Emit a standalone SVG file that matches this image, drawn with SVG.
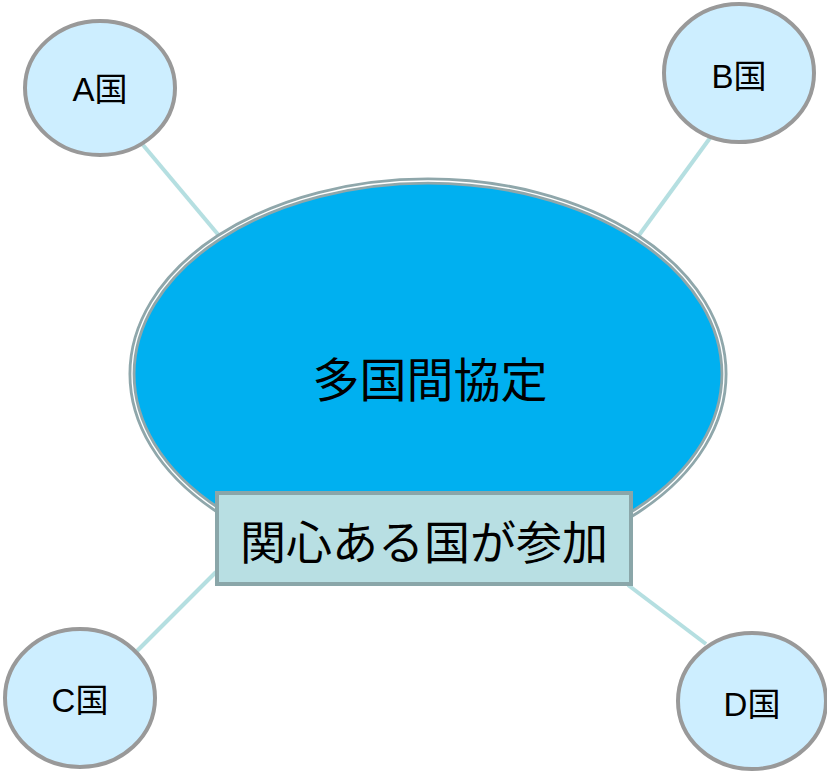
<svg xmlns="http://www.w3.org/2000/svg" width="827" height="772" viewBox="0 0 827 772">
<style>
.c{fill:#cdeeff;stroke:#999999;stroke-width:4}
.t{font-family:"Liberation Sans","Noto Sans CJK JP",sans-serif;fill:#000;text-anchor:middle}
.n{font-size:33px}
.l{stroke:#b5dfe1;stroke-width:4;fill:none}
</style>
<g id="connectors">
<line class="l" x1="143" y1="145" x2="221" y2="238"/>
<line class="l" x1="710" y1="138" x2="637" y2="238"/>
<line class="l" x1="216" y1="572" x2="137" y2="651"/>
<line class="l" x1="628" y1="585" x2="706" y2="644"/>
</g>
<g id="center">
<ellipse cx="428" cy="374" rx="296" ry="193" fill="#00b0f0" stroke="#8fa7ab" stroke-width="7"/>
<ellipse cx="428" cy="374" rx="296" ry="193" fill="none" stroke="#ffffff" stroke-width="1.3"/>
<text class="t" x="430" y="397" font-size="47">多国間協定</text>
</g>
<g id="label">
<rect x="217" y="493" width="414" height="91" fill="#b8dfe3" stroke="#8aa6a9" stroke-width="4"/>
<text class="t" x="424" y="559" font-size="46">関心ある国が参加</text>
</g>
<g id="nodeA">
<ellipse class="c" cx="100" cy="88" rx="75" ry="67"/>
<text class="t n" x="100" y="101">A国</text>
</g>
<g id="nodeB">
<ellipse class="c" cx="739" cy="73" rx="75" ry="69"/>
<text class="t n" x="739" y="88">B国</text>
</g>
<g id="nodeC">
<ellipse class="c" cx="80" cy="698" rx="75" ry="69"/>
<text class="t n" x="80" y="712">C国</text>
</g>
<g id="nodeD">
<ellipse class="c" cx="752" cy="701" rx="74" ry="68"/>
<text class="t n" x="752" y="716">D国</text>
</g>
</svg>
